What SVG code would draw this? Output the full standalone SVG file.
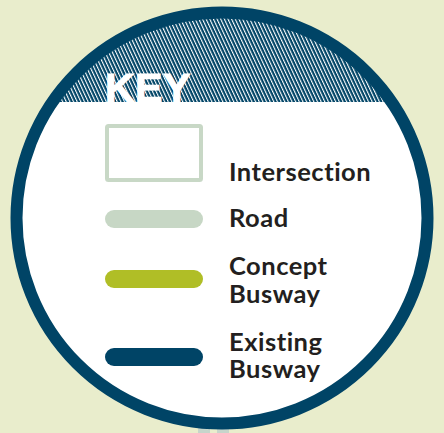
<svg xmlns="http://www.w3.org/2000/svg" width="444" height="433" viewBox="0 0 444 433">
  <style>
    .lbl { font-family: Lato, "Open Sans", "Liberation Sans", sans-serif; font-weight: 700; font-size: 25.5px; letter-spacing: 0.5px; fill: #231f20; }
    .key { font-family: "Liberation Sans", Arial, sans-serif; font-weight: 700; font-size: 41px; fill: #ffffff; stroke: #ffffff; stroke-width: 1.2; letter-spacing: 0.5px; }
    .bar { stroke-linecap: round; stroke-width: 18; fill: none; }
  </style>
  <defs>
    <pattern id="hatch" patternUnits="userSpaceOnUse" width="3.3" height="10" patternTransform="rotate(-25)">
      <rect x="0" y="0" width="3.3" height="10" fill="#004466"/>
      <rect x="0" y="0" width="1.1" height="10" fill="#ffffff"/>
    </pattern>
    <clipPath id="inner">
      <circle cx="222" cy="218" r="200"/>
    </clipPath>
  </defs>
  <rect x="0" y="0" width="444" height="433" fill="#e9edcc"/>
  <rect x="198" y="428" width="12" height="5" fill="#c6d5cb"/>
  <rect x="217" y="428" width="12" height="5" fill="#c6d5cb"/>
  <g id="badge">
    <circle cx="222" cy="218" r="200" fill="#ffffff"/>
    <rect x="0" y="0" width="444" height="102" fill="url(#hatch)" clip-path="url(#inner)"/>
    <circle cx="222" cy="218" r="205.5" fill="none" stroke="#004466" stroke-width="12"/>
    <text class="key" x="105" y="102">KEY</text>
  </g>
  <g id="intersection">
    <rect x="107" y="126" width="94" height="54" rx="1.5" fill="none" stroke="#c8d8c6" stroke-width="4"/>
    <text class="lbl" x="229" y="181">Intersection</text>
  </g>
  <g id="road">
    <line class="bar" x1="114" y1="219" x2="194" y2="219" stroke="#c7d7c5"/>
    <text class="lbl" x="229" y="227">Road</text>
  </g>
  <g id="concept-busway">
    <line class="bar" x1="114" y1="279" x2="194" y2="279" stroke="#b0be26"/>
    <text class="lbl" x="229" y="275">Concept</text>
    <text class="lbl" x="229" y="303">Busway</text>
  </g>
  <g id="existing-busway">
    <line class="bar" x1="114" y1="357" x2="194" y2="357" stroke="#004466"/>
    <text class="lbl" x="229" y="351">Existing</text>
    <text class="lbl" x="229" y="378">Busway</text>
  </g>
  <g id="connectors"/>
</svg>
